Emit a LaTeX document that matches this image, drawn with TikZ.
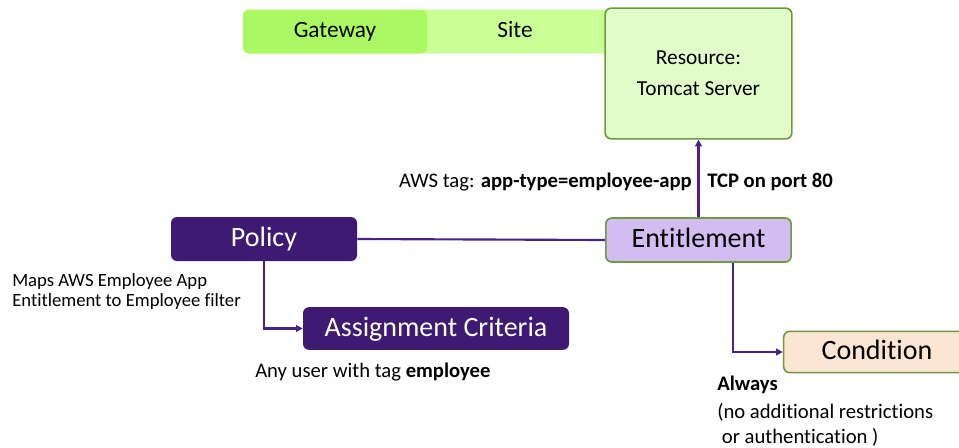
\documentclass[tikz,border=0pt]{standalone}
\usepackage{fontspec}
\setmainfont{Carlito}[Ligatures=NoCommon]
\usetikzlibrary{arrows.meta,positioning}

\definecolor{gwgreen}{HTML}{ABF962}
\definecolor{sitegreen}{HTML}{C9FF96}
\definecolor{resgreen}{HTML}{E1FCC9}
\definecolor{edgegreen}{HTML}{6C9B3E}
\definecolor{darkpurple}{HTML}{3E1A72}
\definecolor{lavender}{HTML}{D2BCF0}
\definecolor{peach}{HTML}{FCE5D2}
\definecolor{linkpurple}{HTML}{4A2287}

\begin{document}
\begin{tikzpicture}[x=0.75pt,y=-0.75pt,>={Triangle[length=5pt,width=5pt]},
 box/.style={rounded corners=4.5pt,inner sep=0pt,minimum height=33pt},
 bigtxt/.style={text height=15.5pt,text depth=4.2pt,font=\fontsize{21}{25}\selectfont},
 bartxt/.style={text height=13pt,text depth=3.5pt,font=\fontsize{17.5}{21}\selectfont},
 darkbox/.style={box,bigtxt,fill=darkpurple,text=white},
 lightbox/.style={box,draw=edgegreen,line width=1.2pt},
 link/.style={draw=linkpurple,line width=1.6pt},
 lbl/.style={font=\fontsize{15.5}{18.75}\selectfont,inner sep=0pt}]
\path[use as bounding box,clip] (0,0) rectangle (959,447);
% top bar: gateway and site behind the resource
\node[box,bartxt,fill=sitegreen,minimum width=142.5pt] (site) at (515,31.5) {Site};
\node[box,bartxt,fill=gwgreen,minimum width=138pt] (gateway) at (335,31.5) {Gateway};
\node[lightbox,fill=resgreen,minimum width=140pt,minimum height=98pt,align=center,
  font=\fontsize{16}{19}\selectfont] (resource) at (698.5,73.5) {Resource:\\[4.5pt]Tomcat Server};
% main boxes
\node[darkbox,minimum width=139.5pt] (policy) at (264,239) {Policy};
\node[lightbox,bigtxt,fill=lavender,minimum width=139pt] (entitle) at (698.5,240) {Entitlement};
\node[darkbox,minimum width=199.5pt,minimum height=32pt] (assign) at (436,328.5) {Assignment Criteria};
\node[lightbox,bigtxt,fill=peach,minimum width=140pt,minimum height=31pt] (cond) at (877,352) {Condition};
% connectors
\draw[link] (policy.east) -- (entitle.west);
\draw[link,->] (policy.south) |- (assign.west);
\draw[link,->] (entitle.north) -- (resource.south);
\draw[link,->] ([xshift=26pt]entitle.south) |- (cond.west);
% labels
\node[lbl,anchor=base east] (tag) at (692,187) {AWS tag: \textbf{app-type=employee-app}};
\node[lbl,anchor=base west] (tcp) at (707,187) {\textbf{TCP on port 80}};
\node[lbl,anchor=base west,align=left,font=\fontsize{14}{15}\selectfont] (maps) at (12,306)
  {Maps AWS Employee App\\Entitlement to Employee filter};
\node[lbl,anchor=base west] (anyuser) at (255,377) {Any user with tag \textbf{employee}};
\node[lbl,anchor=base west,align=left] (always) at (717,443)
  {\textbf{Always}\\[2.25pt](no additional restrictions\\\ or authentication )};
\end{tikzpicture}
\end{document}
